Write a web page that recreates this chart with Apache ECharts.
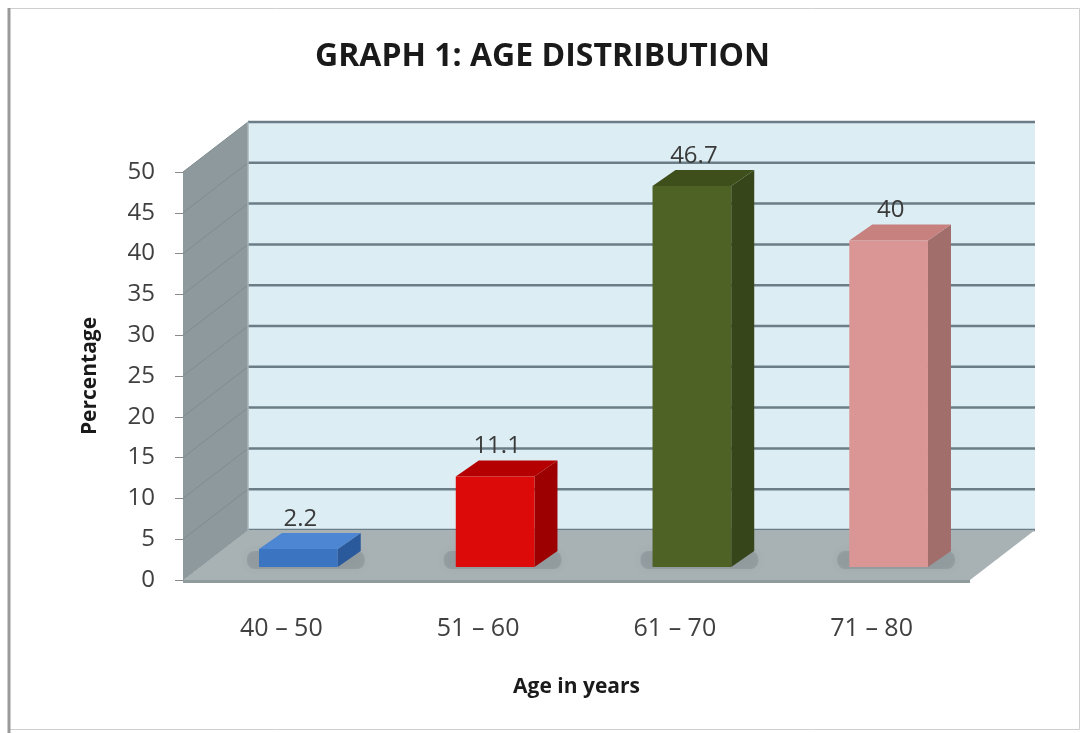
<!DOCTYPE html>
<html>
<head>
<meta charset="utf-8">
<script src="https://cdn.jsdelivr.net/npm/echarts@6/dist/echarts.min.js"></script>
<style>
  html, body { margin: 0; padding: 0; background: #fff; }
  #main { width: 1085px; height: 733px; }
</style>
</head>
<body>
<div id="main"></div>
<script>
// data
const categories = ['40 – 50', '51 – 60', '61 – 70', '71 – 80'];
const percentages = [2.2, 11.1, 46.7, 40];
const yTicks = [0, 5, 10, 15, 20, 25, 30, 35, 40, 45, 50];

// bar colours: front, top, side
const barColors = [
  ['#3b74c0', '#4d86d2', '#2b5a9c'],
  ['#dd0a0a', '#b40000', '#9c0000'],
  ['#4f6226', '#3f4f1b', '#37451a'],
  ['#da9694', '#c78280', '#a26e6c']
];

// perspective offsets
const DX = 65, DY = -50;      // back wall
const BX = 17, BY = -13;      // bar front face inside the box
const DDX = 23, DDY = -16;    // bar depth

const font = '"Open Sans", "Liberation Sans", sans-serif';

function renderWalls(params, api) {
  const cs = params.coordSys;
  const x0 = cs.x, x1 = cs.x + cs.width;
  const yb = api.coord([0, 0])[1];
  const yt = api.coord([0, yTicks[yTicks.length - 1]])[1];
  const kids = [];
  // back wall
  kids.push({
    type: 'polygon',
    shape: { points: [[x0 + DX, yb + DY], [x1 + DX, yb + DY], [x1 + DX, yt + DY], [x0 + DX, yt + DY]] },
    style: { fill: '#dcedf3' }
  });
  // left wall
  kids.push({
    type: 'polygon',
    shape: { points: [[x0, yb], [x0 + DX, yb + DY], [x0 + DX, yt + DY], [x0, yt]] },
    style: { fill: '#8d999c' }
  });
  // grid lines
  yTicks.forEach(function (t) {
    const y = api.coord([0, t])[1];
    kids.push({
      type: 'line',
      shape: { x1: x0 + DX, y1: y + DY, x2: x1 + DX, y2: y + DY },
      style: { stroke: '#6b7d86', lineWidth: 2.5 }
    });
    kids.push({
      type: 'line',
      shape: { x1: x0, y1: y, x2: x0 + DX, y2: y + DY },
      style: { stroke: '#7f8c90', lineWidth: 1 }
    });
  });
  // left wall back edge
  kids.push({
    type: 'line',
    shape: { x1: x0 + DX, y1: yb + DY, x2: x0 + DX, y2: yt + DY },
    style: { stroke: '#a9b4b8', lineWidth: 1.5 }
  });
  // floor
  kids.push({
    type: 'polygon',
    shape: { points: [[x0, yb], [x1, yb], [x1 + DX, yb + DY], [x0 + DX, yb + DY]] },
    style: { fill: '#a8b2b5' }
  });
  kids.push({
    type: 'rect',
    shape: { x: x0, y: yb, width: x1 - x0, height: 3 },
    style: { fill: '#909b9e' }
  });
  return { type: 'group', children: kids };
}

function renderBar(params, api) {
  const i = api.value(0), v = api.value(1);
  const base = api.coord([i, 0]);
  const top = api.coord([i, v]);
  const band = api.size([1, 0])[0];
  const w = band * 0.4;
  const fx = base[0] - w / 2 + BX;
  const fy0 = base[1] + BY;
  const fy1 = top[1] + BY;
  const c = barColors[params.dataIndex];
  return {
    type: 'group',
    children: [
      { // shadow on floor
        type: 'rect',
        shape: { x: fx - 12, y: fy0 + DDY, width: w + DDX + 16, height: -DDY + 2, r: 8 },
        style: { fill: 'rgba(70,80,85,0.18)', shadowBlur: 10, shadowColor: 'rgba(70,80,85,0.35)' }
      },
      {
        type: 'polygon',
        shape: { points: [[fx + w, fy0], [fx + w, fy1], [fx + w + DDX, fy1 + DDY], [fx + w + DDX, fy0 + DDY]] },
        style: { fill: c[2] }
      },
      {
        type: 'polygon',
        shape: { points: [[fx, fy1], [fx + w, fy1], [fx + w + DDX, fy1 + DDY], [fx + DDX, fy1 + DDY]] },
        style: { fill: c[1] }
      },
      {
        type: 'rect',
        shape: { x: fx, y: fy1, width: w, height: fy0 - fy1 },
        style: { fill: c[0] }
      },
      {
        type: 'text',
        style: {
          x: fx + w / 2 + 2, y: fy1 + DDY - 14,
          text: String(v),
          fill: '#3a3a3a', font: '24px ' + font,
          align: 'center', verticalAlign: 'middle'
        }
      }
    ]
  };
}

const chart = echarts.init(document.getElementById('main'), null, { renderer: 'canvas' });

chart.setOption({
  animation: false,
  backgroundColor: '#ffffff',
  title: {
    text: 'GRAPH 1: AGE DISTRIBUTION',
    left: 'center',
    top: 36,
    textStyle: { fontFamily: font, fontWeight: 'bold', fontSize: 32, color: '#1a1a1a' }
  },
  graphic: [
    {
      type: 'rect', silent: true, z: -1,
      shape: { x: 8.5, y: 8.5, width: 1071, height: 721 },
      style: { fill: 'none', stroke: '#cfcfcf', lineWidth: 1 }
    },
    {
      type: 'line', silent: true,
      shape: { x1: 9, y1: 8, x2: 9, y2: 733 },
      style: { stroke: '#9a9a9a', lineWidth: 3 }
    }
  ],
  grid: { left: 183, right: 115, top: 172, bottom: 153 },
  xAxis: {
    type: 'category',
    data: categories,
    name: 'Age in years',
    nameLocation: 'middle',
    nameGap: 97,
    nameTextStyle: { fontFamily: font, fontWeight: 'bold', fontSize: 21, color: '#1a1a1a' },
    axisLine: { show: false },
    axisTick: { show: false },
    axisLabel: { margin: 36, fontFamily: font, fontSize: 25, color: '#404040' },
    splitLine: { show: false }
  },
  yAxis: {
    type: 'value',
    min: 0,
    max: 50,
    interval: 5,
    name: 'Percentage',
    nameLocation: 'middle',
    nameRotate: 90,
    nameGap: 82,
    nameTextStyle: { fontFamily: font, fontWeight: 'bold', fontSize: 21, color: '#1a1a1a' },
    axisLine: { show: true, lineStyle: { color: '#8a8a8a', width: 1 } },
    axisTick: { show: true, length: 8, lineStyle: { color: '#8a8a8a' } },
    axisLabel: { margin: 28, fontFamily: font, fontSize: 24, color: '#404040' },
    splitLine: { show: false }
  },
  series: [
    {
      type: 'custom',
      renderItem: renderWalls,
      data: [[0, 0]],
      clip: false,
      silent: true,
      z: 1
    },
    {
      type: 'custom',
      renderItem: renderBar,
      data: percentages.map(function (v, i) { return [i, v]; }),
      clip: false,
      z: 2
    }
  ]
});
</script>
</body>
</html>
